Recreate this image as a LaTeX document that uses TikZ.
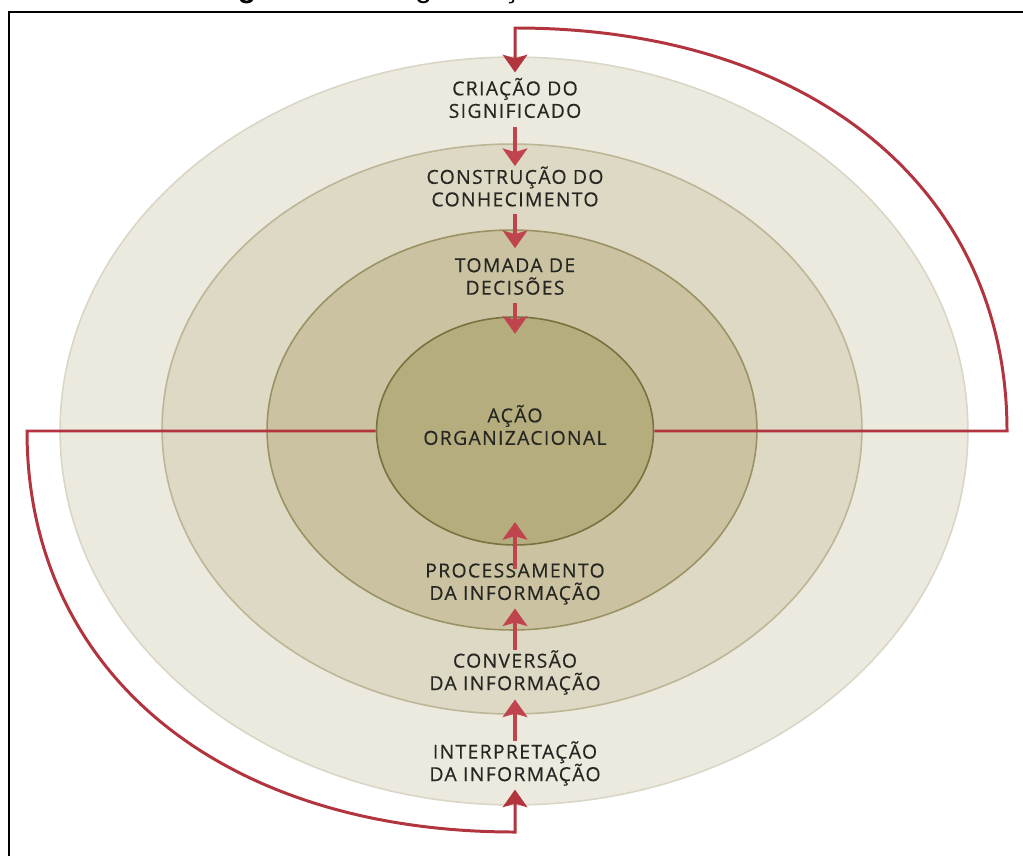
\documentclass[tikz,border=0pt]{standalone}
\usepackage{fontspec}
\usetikzlibrary{arrows.meta,shapes.geometric}
\newfontfamily\ringfont[LetterSpace=7, FakeBold=0.4]{Open Sans}
\newfontfamily\titlefont{Liberation Sans}
\definecolor{ringouter}{RGB}{236,233,222}
\definecolor{ringouterline}{RGB}{218,214,198}
\definecolor{ringmid}{RGB}{222,217,196}
\definecolor{ringmidline}{RGB}{188,181,150}
\definecolor{ringinner}{RGB}{202,194,160}
\definecolor{ringinnerline}{RGB}{155,146,100}
\definecolor{corefill}{RGB}{182,173,127}
\definecolor{coreline}{RGB}{122,113,62}
\definecolor{flowred}{RGB}{192,68,78}
\definecolor{loopred}{RGB}{178,52,62}
\definecolor{textgray}{RGB}{38,38,34}
\tikzset{
  ring/.style={ellipse, inner sep=0pt, line width=0.9pt},
  ringtext/.style={align=center, inner sep=0pt, text=textgray,
    font=\ringfont\fontsize{11pt}{12.8pt}\selectfont},
  flow/.style={draw=flowred, line width=2.2pt,
    -{Stealth[width=14pt,length=10pt,inset=2pt]}},
  loopline/.style={draw=loopred, line width=1.7pt, line join=miter},
  frameline/.style={draw=black, line width=1.1pt}
}
\begin{document}
\begin{tikzpicture}[x=0.02cm, y=-0.02cm]
    \useasboundingbox (0,0) rectangle (1023,855);
    \clip (0,0) rectangle (1023,855);

    % titulo (cortado)
    \begin{scope}
        \clip (0,0) rectangle (1023,11);
        \node[anchor=base west, inner sep=0pt,
              font=\titlefont\fontsize{17pt}{20pt}\selectfont] (titulo) at (211,-2.5)
            {\textbf{Figura 1} – A organização do conhecimento};
    \end{scope}

    % moldura
    \draw[frameline] (9,870) |- (1040,12);

    % aneis
    \node[ring, fill=ringouter, draw=ringouterline,
          minimum width=18.16cm, minimum height=14.96cm] (ring1) at (514,431) {};
    \node[ring, fill=ringmid, draw=ringmidline,
          minimum width=14cm, minimum height=11.4cm] (ring2) at (512,429) {};
    \node[ring, fill=ringinner, draw=ringinnerline,
          minimum width=9.8cm, minimum height=8cm] (ring3) at (512,430) {};
    \node[ring, fill=corefill, draw=coreline,
          minimum width=5.54cm, minimum height=4.56cm] (core) at (515,431) {};

    % textos
    \node[ringtext] (criacao) at (515,98) {CRIAÇÃO DO\\SIGNIFICADO};
    \node[ringtext] (construcao) at (515,186.5) {CONSTRUÇÃO DO\\CONHECIMENTO};
    \node[ringtext] (tomada) at (515,276.5) {TOMADA DE\\DECISÕES};
    \node[ringtext] (acao) at (515,425) {AÇÃO\\ORGANIZACIONAL};
    \node[ringtext] (processamento) at (515,584) {PROCESSAMENTO\\DA INFORMAÇÃO};
    \node[ringtext] (conversao) at (515,672.5) {CONVERSÃO\\DA INFORMAÇÃO};
    \node[ringtext] (interpretacao) at (515,763.5) {INTERPRETAÇÃO\\DA INFORMAÇÃO};

    % pontos de volta
    \coordinate (rturn) at (1007,431);
    \coordinate (topturn) at (515,28);
    \coordinate (lturn) at (27,431);
    \coordinate (botturn) at (515,832);

    % laco de cima
    \draw[loopline, -{Stealth[width=14pt,length=10pt,inset=2pt]}, shorten >=3pt]
        (core.east) -- (rturn) .. controls (1007,189) and (811,28) .. (topturn)
        -- (criacao.north);

    % laco de baixo
    \draw[loopline, -{Stealth[width=14pt,length=10pt,inset=2pt]}, shorten >=2pt]
        (core.west) -- (lturn) .. controls (27,672) and (221,832) .. (botturn)
        -- (interpretacao.south);

    % setas para dentro
    \draw[flow, shorten <=5pt] (criacao.south) -- (construcao.north);
    \draw[flow, shorten <=4pt, shorten >=5.5pt] (construcao.south) -- (tomada.north);
    \draw[flow, shorten <=4.5pt, shorten >=-10pt] (tomada.south) -- (core.north);

    % setas para dentro, de baixo
    \draw[flow, shorten <=-3.5pt, shorten >=-13.5pt] (processamento.north) -- (core.south);
    \draw[flow, shorten >=2pt] (conversao.north) -- (processamento.south);
    \draw[flow, shorten >=2.5pt] (interpretacao.north) -- (conversao.south);
\end{tikzpicture}
\end{document}
